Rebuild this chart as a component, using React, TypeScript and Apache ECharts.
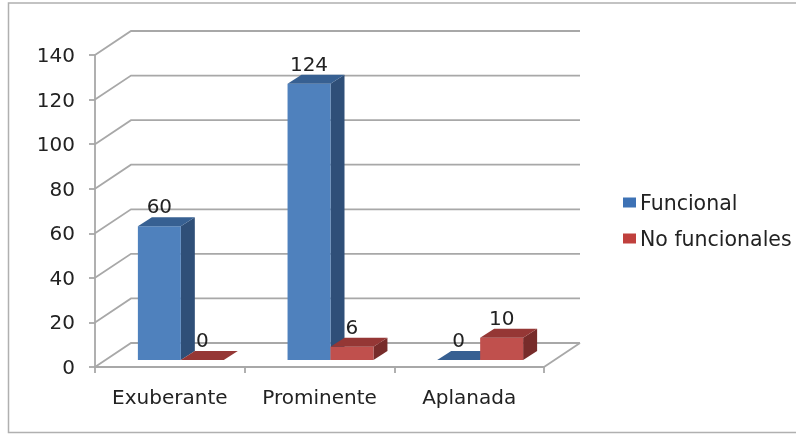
import React, { useEffect, useRef } from "react";
import * as echarts from "echarts";

const categories = ["Exuberante", "Prominente", "Aplanada"];
const funcional = [60, 124, 0];
const noFuncionales = [0, 6, 10];
const wallTicks = [0, 20, 40, 60, 80, 100, 120, 140];

const FONT = "DejaVu Sans";
const WALL = { dx: 36, dy: -24 };
const BAR = { dx: 14, dy: -9, lift: 7, shift: 11, ratio: 0.287 };
const GRIDLINE = "#a8a8a8";
const INK = "#222222";

function barRenderer(front: string, top: string, side: string, offsetSign: number) {
  return (params: any, api: any) => {
    const cat = api.value(0);
    const val = api.value(1);
    const base = api.coord([cat, 0]);
    const head = api.coord([cat, val]);
    const w = api.size([1, 0])[0] * BAR.ratio;
    const x0 = base[0] + BAR.shift + (offsetSign < 0 ? -w : 0);
    const x1 = x0 + w;
    const yb = base[1] - BAR.lift;
    const yt = head[1] - BAR.lift;
    const { dx, dy } = BAR;
    const children: any[] = [];
    if (val > 0) {
      children.push({
        type: "polygon",
        shape: { points: [[x1, yt], [x1 + dx, yt + dy], [x1 + dx, yb + dy], [x1, yb]] },
        style: { fill: side },
      });
      children.push({
        type: "rect",
        shape: { x: x0, y: yt, width: w, height: yb - yt },
        style: { fill: front },
      });
    }
    children.push({
      type: "polygon",
      shape: { points: [[x0, yt], [x0 + dx, yt + dy], [x1 + dx, yt + dy], [x1, yt]] },
      style: { fill: top },
    });
    children.push({
      type: "text",
      style: {
        x: (x0 + x1) / 2,
        y: yt - 20,
        text: String(val),
        fill: INK,
        font: `20px "${FONT}"`,
        align: "center",
        verticalAlign: "middle",
      },
    });
    return { type: "group", children };
  };
}

function wallRenderer(params: any, api: any) {
  const y = api.coord([0, api.value(0)])[1];
  const left = params.coordSys.x;
  const right = left + params.coordSys.width;
  const { dx, dy } = WALL;
  const v = api.value(0);
  const children: any[] = [
    {
      type: "polyline",
      shape: { points: [[left, y], [left + dx, y + dy], [right + dx, y + dy]] },
      style: { fill: "none", stroke: GRIDLINE, lineWidth: 1.8 },
    },
  ];
  if (v === 0) {
    children.push({
      type: "line",
      shape: { x1: right, y1: y, x2: right + dx, y2: y + dy },
      style: { stroke: GRIDLINE, lineWidth: 1.8 },
    });
  }
  return { type: "group", children };
}

export default function App() {
  const ref = useRef<HTMLDivElement>(null);
  useEffect(() => {
    const chart = echarts.init(ref.current!, null, { renderer: "svg" });
    chart.setOption({
      animation: false,
      backgroundColor: "#ffffff",
      grid: { left: 95, right: 252, top: 55, bottom: 67 },
      graphic: [
        {
          type: "polyline",
          shape: { points: [[796, 3], [8.5, 3], [8.5, 432.5], [796, 432.5]] },
          style: { fill: "none", stroke: "#b0b0b0", lineWidth: 1.5 },
          silent: true,
        },
      ],
      legend: {
        data: ["Funcional", "No funcionales"],
        orient: "vertical",
        left: 618,
        top: 187,
        itemWidth: 13,
        itemHeight: 10,
        itemGap: 15,
        icon: "rect",
        textStyle: { fontFamily: FONT, fontSize: 20.5, color: INK, padding: [0, 0, 0, -1] },
      },
      xAxis: {
        type: "category",
        data: categories,
        axisLine: { lineStyle: { color: GRIDLINE, width: 1.8 } },
        axisTick: { show: true, interval: 0, length: 6, lineStyle: { color: GRIDLINE, width: 1.8 } },
        axisLabel: { color: INK, fontFamily: FONT, fontSize: 20, margin: 20, interval: 0, hideOverlap: false },
        splitLine: { show: false },
      },
      yAxis: {
        type: "value",
        min: 0,
        max: 140,
        interval: 20,
        axisLine: { show: true, lineStyle: { color: GRIDLINE, width: 1.8 } },
        axisTick: { show: true, length: 6, lineStyle: { color: GRIDLINE, width: 1.8 } },
        axisLabel: { color: INK, fontFamily: FONT, fontSize: 20, margin: 20 },
        splitLine: { show: false },
      },
      series: [
        {
          type: "custom",
          name: "walls",
          clip: false,
          z: 1,
          silent: true,
          data: wallTicks.map((t) => [t]),
          encode: { y: 0 },
          renderItem: wallRenderer,
        },
        {
          type: "custom",
          name: "Funcional",
          clip: false,
          z: 3,
          itemStyle: { color: "#3d72b5" },
          data: funcional.map((v, i) => [i, v]),
          encode: { x: 0, y: 1 },
          renderItem: barRenderer("#4f81bd", "#376092", "#2f4f78", -1),
        },
        {
          type: "custom",
          name: "No funcionales",
          clip: false,
          z: 4,
          itemStyle: { color: "#c0403d" },
          data: noFuncionales.map((v, i) => [i, v]),
          encode: { x: 0, y: 1 },
          renderItem: barRenderer("#c0504d", "#953735", "#772c2a", 1),
        },
      ],
    });
    return () => chart.dispose();
  }, []);
  return (
    <div
      ref={ref}
      style={{ position: "absolute", left: 0, top: 0, width: 796, height: 434, filter: "blur(0.7px)" }}
    />
  );
}
